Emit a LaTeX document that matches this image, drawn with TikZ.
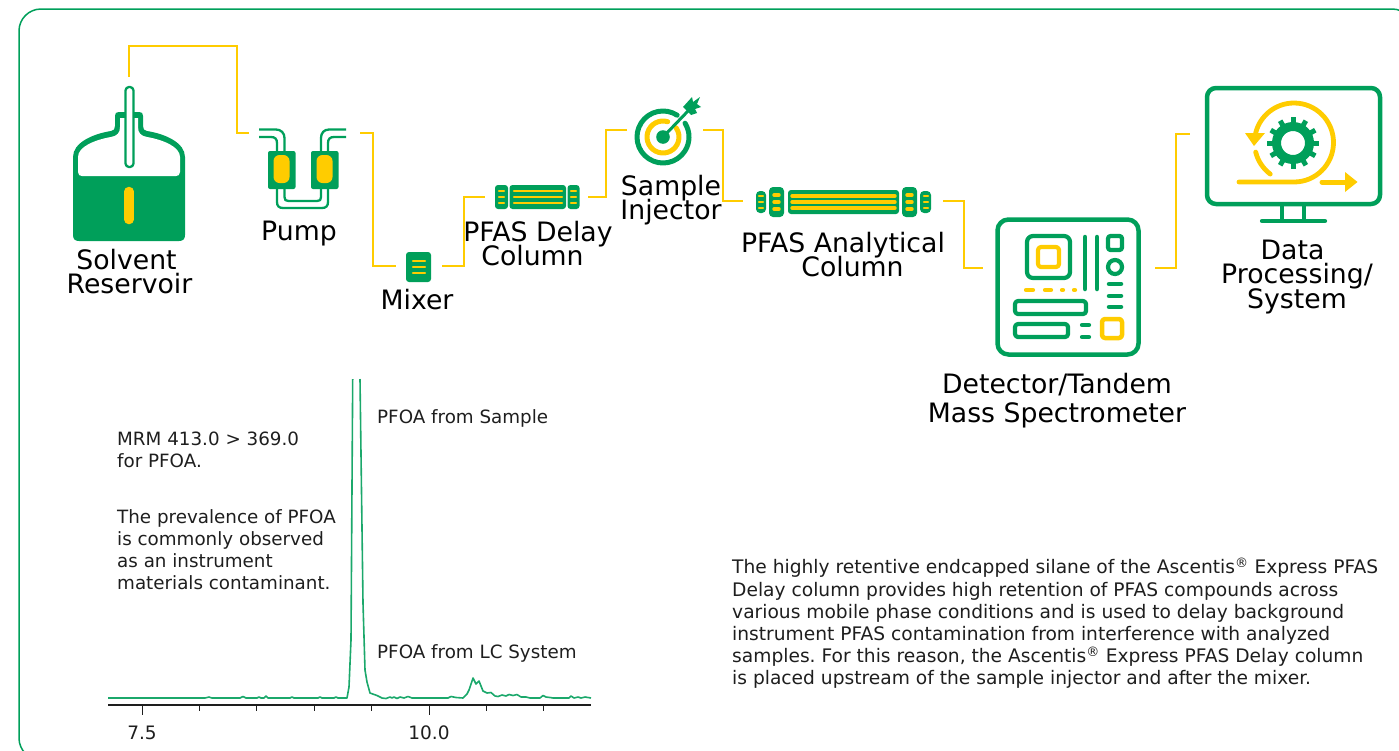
\documentclass[tikz,border=0pt]{standalone}
\usepackage{fontspec}
\setmainfont{DejaVu Sans}
\definecolor{iconGreen}{HTML}{009F5A}
\definecolor{pipeYellow}{HTML}{FFCC00}
\definecolor{traceGreen}{HTML}{1BA86B}
\definecolor{bodyInk}{HTML}{1E1E1E}
\lineskiplimit=-100pt
\frenchspacing
\begin{document}
\begin{tikzpicture}[x=1pt,y=-1pt,line join=round,
    pipe/.style={draw=pipeYellow,line width=2pt,line join=miter},
    tube/.style={draw=iconGreen,line width=2.3pt},
    green line/.style={draw=iconGreen,line width=#1,line cap=round},
    gold line/.style={draw=pipeYellow,line width=#1,line cap=round},
    main label/.style={text=black,align=center,font=\fontsize{26.7}{24.5}\selectfont},
    note/.style={text=bodyInk,align=left,anchor=north west,inner sep=0pt,font=\fontsize{18.3}{22.2}\selectfont},
    tick label/.style={text=bodyInk,font=\fontsize{18.5}{22}\selectfont}]
    \useasboundingbox (0,0) rectangle (1399,750);
    \draw[iconGreen,line width=1.5pt,rounded corners=22pt] (19,9) rectangle (1414,760);

    % pipe ends
    \coordinate (resOut) at (129,77);
    \coordinate (resBend) at (237,46);
    \coordinate (pumpIn) at (249,133);
    \coordinate (pumpOut) at (360,133);
    \coordinate (pumpBend) at (373,200);
    \coordinate (mixIn) at (396,266);
    \coordinate (mixOut) at (442,266);
    \coordinate (mixBend) at (464,230);
    \coordinate (delayIn) at (485,197);
    \coordinate (delayOut) at (588,197);
    \coordinate (delayBend) at (606,160);
    \coordinate (injIn) at (627,130);
    \coordinate (injOut) at (703,130);
    \coordinate (injBend) at (723,160);
    \coordinate (anaIn) at (743,201);
    \coordinate (anaOut) at (943,201);
    \coordinate (anaBend) at (964,230);
    \coordinate (detIn) at (983,268);
    \coordinate (detOut) at (1155,268);
    \coordinate (detBend) at (1176,200);
    \coordinate (dataIn) at (1190,134);

    \draw[pipe] (resOut) |- (resBend) |- (pumpIn);
    \draw[pipe] (pumpOut) -| (pumpBend) |- (mixIn);
    \draw[pipe] (mixOut) -| (mixBend) |- (delayIn);
    \draw[pipe] (delayOut) -| (delayBend) |- (injIn);
    \draw[pipe] (injOut) -| (injBend) |- (anaIn);
    \draw[pipe] (anaOut) -| (anaBend) |- (detIn);
    \draw[pipe] (detOut) -| (detBend) |- (dataIn);

    % reservoir
    \fill[iconGreen] (73,235) -- (73,157) .. controls (73,143) and (92,134) .. (111,131)
        .. controls (114,130.5) and (115,129) .. (115,126) -- (115,116)
        .. controls (115,113) and (116,112) .. (119,112) -- (139,112)
        .. controls (142,112) and (143,113) .. (143,116) -- (143,126)
        .. controls (143,129) and (144,130.5) .. (147,131)
        .. controls (166,134) and (185,143) .. (185,157) -- (185,235)
        .. controls (185,239) and (183,241) .. (179,241) -- (79,241)
        .. controls (75,241) and (73,239) .. (73,235) -- cycle;
    \fill[white] (78,172) -- (78,157) .. controls (78,147) and (94,140) .. (111,137)
        .. controls (117,136) and (120,133) .. (120,127) -- (120,118) -- (138,118) -- (138,127)
        .. controls (138,133) and (141,136) .. (147,137)
        .. controls (164,140) and (180,147) .. (180,157) -- (180,172)
        .. controls (180,175) and (178,176) .. (176,176) -- (82,176)
        .. controls (80,176) and (78,175) .. (78,172) -- cycle;
    \draw[iconGreen,fill=white,line width=2.3pt,rounded corners=3.5pt] (125.5,87) rectangle (133.5,167);
    \draw[gold line=9.5pt] (129,191.5) -- (129,219.5);

    % pump
    \draw[tube] (259,129.5) -- (276,129.5) .. controls (281,129.5) and (284.5,133) .. (284.5,138) -- (284.5,152);
    \draw[tube] (259,137) -- (271,137) .. controls (275,137) and (277,139) .. (277,143) -- (277,152);
    \draw[tube] (346,129.5) -- (329,129.5) .. controls (324,129.5) and (321,133) .. (321,138) -- (321,152);
    \draw[tube] (346,137) -- (334,137) .. controls (330,137) and (328,139) .. (328,143) -- (328,152);
    \draw[tube] (277,188) -- (277,202) .. controls (277,206) and (279,208) .. (283,208) -- (322,208) .. controls (326,208) and (328,206) .. (328,202) -- (328,188);
    \draw[tube] (284.5,188) -- (284.5,197) .. controls (284.5,200) and (285.5,201) .. (288.5,201) -- (317,201) .. controls (320,201) and (321,200) .. (321,197) -- (321,188);
    \foreach \px in {268,311} {
        \fill[iconGreen,rounded corners=2pt] (\px,151) rectangle +(27.5,38);
        \fill[pipeYellow,rounded corners=6pt] (\px+5.5,155) rectangle +(16,28);
    }

    % mixer
    \fill[iconGreen,rounded corners=3pt] (406,252) rectangle (431,282);
    \foreach \my in {261,267,273} \draw[gold line=2.2pt] (413,\my) -- (425,\my);

    % delay column
    \fill[iconGreen,rounded corners=3pt] (495,185) rectangle (508,209);
    \fill[iconGreen,rounded corners=3pt] (509.5,185) rectangle (566,209);
    \fill[iconGreen,rounded corners=3pt] (567.5,185) rectangle (579.5,209);
    \foreach \dy in {191,197,203} {
        \draw[gold line=2.4pt] (514,\dy) -- (562,\dy);
        \draw[gold line=2.4pt] (499,\dy) -- (504,\dy);
        \draw[gold line=2.4pt] (571,\dy) -- (576,\dy);
    }

    % injector
    \draw[green line=5pt] (663,137) ++(-57:26) arc[start angle=-57,end angle=-392,radius=26];
    \draw[gold line=5pt] (663,137) ++(-73:16) arc[start angle=-73,end angle=-395,radius=16];
    \fill[iconGreen] (663,137) circle[radius=6.8];
    \draw[green line=3pt] (663,137) -- (688,111);
    \fill[iconGreen] (691,115) -- (683,107) -- (692,97) -- (693,102) -- (700,97) -- (697,104) -- (701,107) -- (695,109) -- (697,113) -- cycle;

    % analytical column
    \fill[iconGreen,rounded corners=4pt] (756,191) rectangle (766,213);
    \fill[iconGreen,rounded corners=4pt] (769,187) rectangle (784,217);
    \fill[iconGreen,rounded corners=3pt] (788,190) rectangle (899,214);
    \fill[iconGreen,rounded corners=4pt] (902,187) rectangle (917,217);
    \fill[iconGreen,rounded corners=4pt] (920,191) rectangle (931,213);
    \foreach \ay in {196,202,208} \draw[gold line=3.4pt] (792,\ay) -- (895,\ay);
    \foreach \ay in {195,202,209} {
        \draw[gold line=3.4pt] (774,\ay) -- (779,\ay);
        \draw[gold line=3.4pt] (907,\ay) -- (912,\ay);
    }
    \foreach \ay in {196,202,208} {
        \draw[gold line=2.4pt] (759,\ay) -- (763,\ay);
        \draw[gold line=2.4pt] (924,\ay) -- (928,\ay);
    }

    % detector
    \draw[iconGreen,line width=4.5pt,rounded corners=11pt] (997.5,219.5) rectangle (1138.5,354.5);
    \draw[iconGreen,line width=4.2pt,rounded corners=6pt] (1027,236) rectangle (1070,278);
    \draw[pipeYellow,line width=4.2pt,rounded corners=3pt] (1038,247) rectangle (1059,267);
    \draw[green line=4.5pt] (1085,237) -- (1085,289);
    \draw[green line=4.5pt] (1097,237) -- (1097,289);
    \draw[iconGreen,line width=4.2pt,rounded corners=2.5pt] (1108,236) rectangle (1122,250);
    \draw[iconGreen,line width=4.2pt] (1115,267) circle[radius=7];
    \draw[gold line=4.2pt] (1026,290) -- (1033,290);
    \draw[gold line=4.2pt] (1045,290) -- (1051,290);
    \draw[gold line=4.2pt] (1062,290) -- (1063,290);
    \draw[gold line=4.2pt] (1074,290) -- (1075,290);
    \foreach \ly in {284,296,307} \draw[green line=4.5pt] (1109,\ly) -- (1121,\ly);
    \draw[iconGreen,line width=4.2pt,rounded corners=3pt] (1015,301) rectangle (1086,314);
    \draw[iconGreen,line width=4.2pt,rounded corners=3pt] (1015,324) rectangle (1068,337);
    \draw[green line=4.2pt] (1082,325) -- (1089,325);
    \draw[green line=4.2pt] (1082,337) -- (1089,337);
    \draw[pipeYellow,line width=4.5pt,rounded corners=3pt] (1102,319) rectangle (1122,338);

    % data system
    \draw[iconGreen,line width=4.5pt,rounded corners=9pt] (1207,88) rectangle (1380,204);
    \draw[iconGreen,line width=4pt] (1282,205) -- (1282,221);
    \draw[iconGreen,line width=4pt] (1304,205) -- (1304,221);
    \draw[green line=4.2pt] (1262,221) -- (1325,221);
    \draw[gold line=4.8pt] (1239,182) -- (1294,182) arc[start angle=90,end angle=-166,radius=39.5];
    \fill[pipeYellow] (1245,133) -- (1265,133) -- (1254,146) -- cycle;
    \draw[gold line=4.8pt] (1294,142.5) ++(166:39.5) arc[start angle=166,end angle=127,radius=39.5];
    \draw[gold line=5pt] (1322,182) -- (1347,182);
    \fill[pipeYellow] (1345,172) -- (1357.5,182) -- (1345,192) -- cycle;
    \draw[iconGreen,line width=9pt] (1293,143) circle[radius=16.5];
    \foreach \ga in {0,30,...,330} \draw[iconGreen,line width=5pt] (1293,143) ++(\ga:19) -- ++(\ga:6.7);

    % labels
    \node[main label] (solventLbl) at (129.5,271.5) {Solvent\hspace*{6pt}\\Reservoir};
    \node[main label] (pumpLbl) at (299,234) {Pump};
    \node[main label] (mixerLbl) at (417,300) {Mixer};
    \node[main label] (delayLbl) at (538,243.5) {PFAS Delay\\Column\hspace*{11pt}};
    \node[main label] (injLbl) at (671,200) {Sample\\Injector};
    \node[main label] (anaLbl) at (843,254.5) {PFAS Analytical\\\hspace*{19pt}Column};
    \node[main label] (detLbl) at (1057,400.5) {Detector/Tandem\\[4.5pt]Mass Spectrometer};
    \node[main label] (dataLbl) at (1297,277) {Data\hspace*{9pt}\\Processing/\\System};

    % chromatogram
    \draw[traceGreen,line width=1.6pt] (108,698) -- (205,698) -- (209,697) -- (212,698) -- (240,698) -- (243,696.5) -- (246,698) -- (257,698) -- (259,697) -- (261,698) -- (264,698) -- (266,696) -- (268,698) -- (290,698) -- (292,697) -- (294,698) -- (318,698) -- (320,697) -- (322,698) -- (334,698) -- (336,697) -- (338,698) -- (347,698) -- (349,687) -- (351,640) -- (352.7,379)
        (360,379) -- (363,603) -- (365,670) -- (367,682) -- (370,693) -- (377,695.5) -- (382,698) -- (386,698.5) -- (390,697) -- (392,698) -- (394,697) -- (397,698.5) -- (400,697) -- (404,698) -- (408,696.5) -- (412,698) -- (448,698) -- (451,696.5) -- (456,697.5) -- (463,698) -- (467,694) -- (469,690) -- (473,678) -- (476,684) -- (479,681) -- (483,691) -- (487,693) -- (491,692.5) -- (495,696) -- (498,696.5) -- (502,695) -- (506,696) -- (509,694.5) -- (513,695.5) -- (517,694.5) -- (521,697) -- (526,697) -- (530,698) -- (540,698) -- (543,695.5) -- (546,697) -- (550,697.5) -- (553,698) -- (569,698) -- (571,696) -- (574,698) -- (578,697) -- (581,698) -- (585,697) -- (591,698);
    \draw[bodyInk,line width=1.3pt] (108,705) -- (591,705);
    \foreach \tx in {199,256,314,371,486,543} \draw[bodyInk,line width=1pt] (\tx,705) -- (\tx,711);
    \foreach \tx in {142,429} \draw[bodyInk,line width=1pt] (\tx,705) -- (\tx,715);
    \node[tick label] (tickA) at (142,733) {7.5};
    \node[tick label] (tickB) at (429,733) {10.0};
    \node[note] (mrmNote) at (117,432) {MRM 413.0 > 369.0\\for PFOA.};
    \node[note] (prevNote) at (117,509) {The prevalence of PFOA\\is commonly observed\\as an instrument\\materials contaminant.};
    \node[note] (sampleLbl) at (377,409) {PFOA from Sample};
    \node[note] (systemLbl) at (377,644) {PFOA from LC System};
    \node[note,font=\fontsize{18.65}{22.2}\selectfont] (delayNote) at (732,558) {The highly retentive endcapped silane of the Ascentis\textsuperscript{®} Express PFAS\\Delay column provides high retention of PFAS compounds across\\various mobile phase conditions and is used to delay background\\instrument PFAS contamination from interference with analyzed\\samples. For this reason, the Ascentis\textsuperscript{®} Express PFAS Delay column\\is placed upstream of the sample injector and after the mixer.};
\end{tikzpicture}
\end{document}
